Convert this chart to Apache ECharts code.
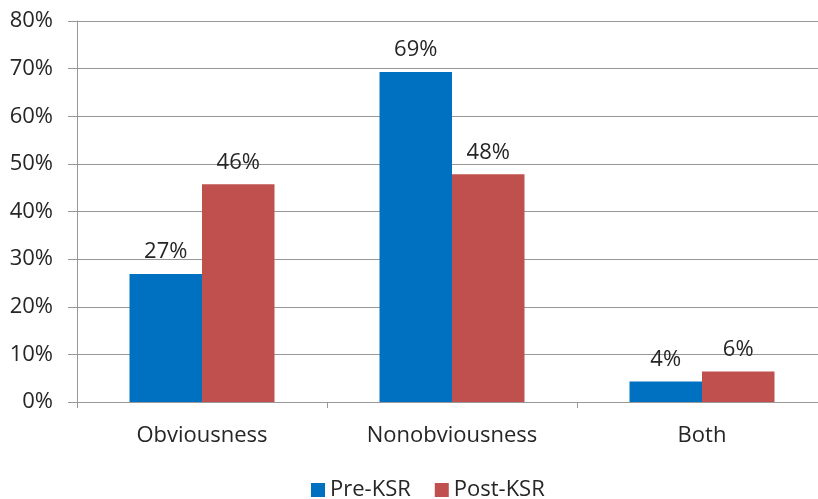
<!DOCTYPE html>
<html>
<head>
<meta charset="utf-8">
<script src="https://cdn.jsdelivr.net/npm/echarts@6/dist/echarts.min.js"></script>
<style>
    html, body { margin: 0; padding: 0; background: #fff; }
    #chart { width: 818px; height: 499px; }
</style>
</head>
<body>
<div id="chart"></div>
<script>
const categories = ['Obviousness', 'Nonobviousness', 'Both'];
const preKsr = [26.9, 69.3, 4.3];
const postKsr = [45.7, 47.8, 6.4];
const yTicks = [0, 10, 20, 30, 40, 50, 60, 70, 80];

const textColor = '#262626';
const font = 'Open Sans';
const fontSize = 22;

const barLabel = {
    show: true,
    position: 'top',
    distance: 11,
    color: textColor,
    fontFamily: font,
    fontSize: fontSize,
    formatter: (p) => Math.round(p.value) + '%',
};

const chart = echarts.init(document.getElementById('chart'));
chart.setOption({
    animation: false,
    textStyle: { fontFamily: font },
    grid: { left: 77, top: 21, width: 750, bottom: 97, containLabel: false, outerBoundsMode: 'none' },
    legend: {
        top: 474,
        left: 306,
        itemWidth: 14,
        itemHeight: 14,
        itemGap: 24,
        icon: 'rect',
        textStyle: { color: textColor, fontSize: fontSize, fontFamily: font },
        data: ['Pre-KSR', 'Post-KSR'],
    },
    xAxis: {
        type: 'category',
        data: categories,
        axisLine: { lineStyle: { color: '#989898' } },
        axisTick: { show: true, length: 6, lineStyle: { color: '#989898' } },
        axisLabel: { color: textColor, fontSize: fontSize, margin: 23, fontFamily: font },
    },
    yAxis: {
        type: 'value',
        min: yTicks[0],
        max: yTicks[yTicks.length - 1],
        interval: 10,
        axisLine: { show: true, lineStyle: { color: '#989898' } },
        axisTick: { show: true, length: 9, lineStyle: { color: '#989898' } },
        splitLine: { lineStyle: { color: '#989898' } },
        axisLabel: { color: textColor, fontSize: fontSize, margin: 24, fontFamily: font, formatter: '{value}%' },
    },
    series: [
        {
            name: 'Pre-KSR',
            type: 'bar',
            data: preKsr,
            barGap: '0%',
            barCategoryGap: '42%',
            itemStyle: { color: '#0070C0' },
            label: barLabel,
        },
        {
            name: 'Post-KSR',
            type: 'bar',
            data: postKsr,
            itemStyle: { color: '#C0504D' },
            label: barLabel,
        },
    ],
});
</script>
</body>
</html>
